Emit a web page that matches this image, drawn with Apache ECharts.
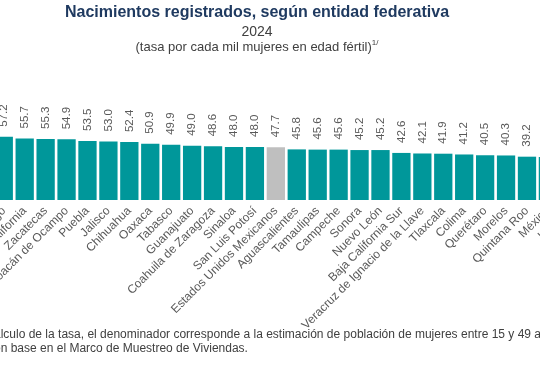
<!DOCTYPE html>
<html>
<head>
<meta charset="utf-8">
<script src="https://cdn.jsdelivr.net/npm/echarts@6/dist/echarts.min.js"></script>
<style>
html,body{margin:0;padding:0;background:#fff;}
#chart{width:540px;height:370px;}
</style>
</head>
<body>
<div id="chart"></div>
<script>
const categories = ['Durango','Baja California','Zacatecas','Michoacán de Ocampo','Puebla','Jalisco','Chihuahua','Oaxaca','Tabasco','Guanajuato','Coahuila de Zaragoza','Sinaloa','San Luis Potosí','Estados Unidos Mexicanos','Aguascalientes','Tamaulipas','Campeche','Sonora','Nuevo León','Baja California Sur','Veracruz de Ignacio de la Llave','Tlaxcala','Colima','Querétaro','Morelos','Quintana Roo','México','Hidalgo'];
const values = [57.2,55.7,55.3,54.9,53.5,53.0,52.4,50.9,49.9,49.0,48.6,48.0,48.0,47.7,45.8,45.6,45.6,45.2,45.2,42.6,42.1,41.9,41.2,40.5,40.3,39.2,38.9,38.2];
const nationalName = 'Estados Unidos Mexicanos';
const titleText = 'Nacimientos registrados, según entidad federativa';
const yearText = '2024';
const subtitleText = '(tasa por cada mil mujeres en edad fértil)';
const subtitleNote = '1/';
const footLine1 = 'cálculo de la tasa, el denominador corresponde a la estimación de población de mujeres entre 15 y 49 años';
const footLine2 = 'con base en el Marco de Muestreo de Viviendas.';

const TEAL = '#00979a';
const GRAY = '#bfbfbf';
const TXT = '#595959';
const FONT = 'Liberation Sans, Arial, sans-serif';

const chart = echarts.init(document.getElementById('chart'), null, {renderer:'canvas'});
chart.setOption({
  animation: false,
  backgroundColor: '#ffffff',
  grid: {left: -6.7, right: -39.3, top: 89.5, bottom: 170, containLabel: false, outerBoundsMode: 'none'},
  xAxis: {
    type: 'category',
    data: categories,
    axisLine: {show: false},
    axisTick: {show: false},
    axisLabel: {interval: 0, rotate: 45, fontSize: 12, color: TXT, fontFamily: FONT, margin: 9}
  },
  yAxis: {type: 'value', min: 0, max: 100, show: false, splitLine: {show: false}},
  series: [{
    type: 'bar',
    barCategoryGap: '12.6%',
    data: values.map((v, i) => ({
      value: v,
      itemStyle: {color: categories[i] === nationalName ? GRAY : TEAL}
    })),
    label: {
      show: true,
      position: 'top',
      distance: 10,
      rotate: 90,
      align: 'left',
      verticalAlign: 'middle',
      fontSize: 11.5,
      color: TXT,
      fontFamily: FONT,
      formatter: p => p.value.toFixed(1)
    }
  }],
  graphic: [
    {type:'text', x:257, y:13, style:{text: titleText, font:'bold 16px "Liberation Sans", Arial, sans-serif', fill:'#1f3a60', textAlign:'center', textVerticalAlign:'middle'}},
    {type:'text', x:257, y:32, style:{text: yearText, font:'14px "Liberation Sans", Arial, sans-serif', fill:'#404040', textAlign:'center', textVerticalAlign:'middle'}},
    {type:'text', x:257, y:47, style:{
      text: '{a|' + subtitleText + '}{s|' + subtitleNote + '}',
      textAlign:'center', textVerticalAlign:'middle',
      rich: {
        a: {fontSize: 13, fontFamily: FONT, fill:'#404040', color:'#404040', lineHeight: 16},
        s: {fontSize: 8, fontFamily: FONT, fill:'#404040', color:'#404040', verticalAlign:'top', lineHeight: 16, padding:[0,0,6,0]}
      }
    }},
    {type:'text', x:-12, y:335, style:{text: footLine1, font:'12px "Liberation Sans", Arial, sans-serif', fill:'#404040', textAlign:'left', textVerticalAlign:'middle'}},
    {type:'text', x:-12, y:349, style:{text: footLine2, font:'12px "Liberation Sans", Arial, sans-serif', fill:'#404040', textAlign:'left', textVerticalAlign:'middle'}}
  ]
});
</script>
</body>
</html>
